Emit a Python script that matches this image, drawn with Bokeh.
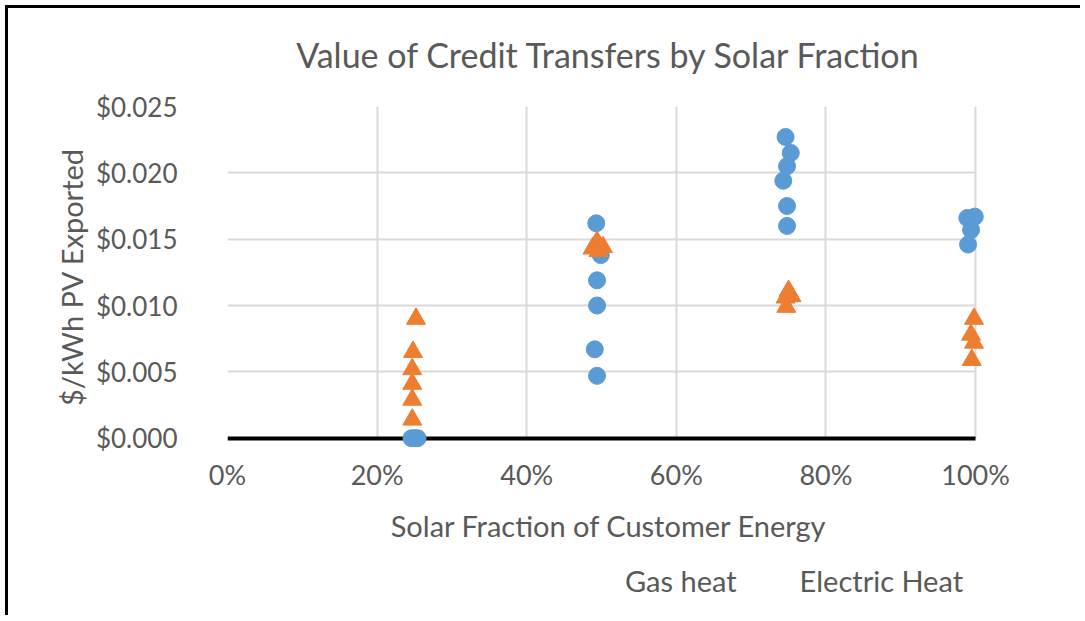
from bokeh.plotting import figure
from bokeh.layouts import column
from bokeh.models import (NumeralTickFormatter, FixedTicker, Range1d,
                          Legend, LegendItem, Title, Grid)
from bokeh.embed import file_html
from bokeh.resources import INLINE

# Gas heat series
gas_x = [0.246, 0.254, 0.2505, 0.493, 0.499, 0.494, 0.494, 0.491, 0.494,
         0.746, 0.753, 0.748, 0.743, 0.748, 0.748,
         0.989, 0.999, 0.994, 0.990]
gas_y = [0.0, 0.0, 0.0, 0.0162, 0.0138, 0.0119, 0.0100, 0.0067, 0.0047,
         0.0227, 0.0215, 0.0205, 0.0194, 0.0175, 0.0160,
         0.0166, 0.0167, 0.0157, 0.0146]

# Electric heat series
elec_x = [0.252, 0.248, 0.247, 0.247, 0.247, 0.247,
          0.494, 0.502, 0.488, 0.496,
          0.750, 0.746, 0.754, 0.747,
          0.998, 0.994, 0.998, 0.995]
elec_y = [0.0090, 0.0065, 0.0052, 0.0041, 0.0029, 0.0014,
          0.0148, 0.0144, 0.0143, 0.0141,
          0.0111, 0.0106, 0.0107, 0.0099,
          0.0090, 0.0078, 0.0072, 0.0059]

series_names = ["Gas heat", "Electric Heat"]
x_ticks = [0, 0.2, 0.4, 0.6, 0.8, 1.0]
y_ticks = [0, 0.005, 0.010, 0.015, 0.020, 0.025]

FONT = "Lato"
GREY = "#595959"
BLUE = "#5B9BD5"
ORANGE = "#ED7D31"

# ---------------- main chart ----------------
p = figure(width=1080, height=555, output_backend="svg", toolbar_location=None,
           x_range=Range1d(0, 1.02), y_range=Range1d(-0.0007, 0.025),
           min_border_left=227, min_border_right=90, min_border_top=106,
           min_border_bottom=108)
p.title = None
p.outline_line_color = None
p.border_fill_color = None
p.styles = {
    "background": ("linear-gradient(#000, #000) 5px 5px / 3px 100% no-repeat, "
                   "linear-gradient(#000, #000) 5px 5px / 100% 3px no-repeat, #fff"),
}

t = Title(text="Value of Credit Transfers by Solar Fraction", align="center",
          vertical_align="top",
          text_font=FONT, text_font_size="34px", text_font_style="normal",
          text_color=GREY, offset=0, standoff=60)
p.add_layout(t, "above")

p.xgrid.grid_line_color = "#d9d9d9"
p.ygrid.grid_line_color = "#d9d9d9"
p.xgrid.grid_line_width = 2
p.ygrid.grid_line_width = 2
p.xgrid.cross_bounds = (0, 0.025)
p.ygrid.cross_bounds = (0, 1)

# black zero line (horizontal axis line of the reference)
zero_line = Grid(dimension=1, ticker=FixedTicker(ticks=[y_ticks[0]]),
                 grid_line_color="black", grid_line_width=4,
                 cross_bounds=(x_ticks[0], x_ticks[-1]))
p.add_layout(zero_line, "center")

p.scatter(gas_x, gas_y, marker="circle", size=17, fill_color=BLUE,
          line_color=BLUE)
p.scatter(elec_x, elec_y, marker="triangle", size=19, fill_color=ORANGE,
          line_color=ORANGE)

p.xaxis.ticker = FixedTicker(ticks=x_ticks)
p.yaxis.ticker = FixedTicker(ticks=y_ticks)
p.xaxis.formatter = NumeralTickFormatter(format="0%")
p.yaxis.formatter = NumeralTickFormatter(format="$0.000")

for ax in (p.xaxis[0], p.yaxis[0]):
    ax.axis_line_color = None
    ax.major_tick_line_color = None
    ax.minor_tick_line_color = None
    ax.major_tick_out = 0
    ax.major_tick_in = 0
    ax.minor_tick_out = 0
    ax.minor_tick_in = 0
    ax.major_label_text_font = FONT
    ax.major_label_text_font_size = "27px"
    ax.major_label_text_color = GREY
    ax.axis_label_text_font = FONT
    ax.axis_label_text_font_size = "29px"
    ax.axis_label_text_font_style = "normal"
    ax.axis_label_text_color = GREY

p.yaxis.major_label_text_font_size = "26px"
p.xaxis.major_label_standoff = 10
p.xaxis.axis_label = "Solar Fraction of Customer Energy"
p.xaxis.axis_label_standoff = 14
p.yaxis.major_label_standoff = 50
p.yaxis.axis_label = "$/kWh PV Exported"
p.yaxis.axis_label_standoff = 4

# ---------------- legend strip ----------------
p2 = figure(width=1080, height=60, output_backend="svg", toolbar_location=None,
            x_axis_type=None, y_axis_type=None,
            x_range=Range1d(0, 1), y_range=Range1d(0, 1),
            min_border=0, min_border_left=0, min_border_right=0,
            min_border_top=0, min_border_bottom=0)
p2.title = None
p2.outline_line_color = None
p2.grid.visible = False
p2.border_fill_color = None
p2.background_fill_color = None
p2.styles = {
    "background": "linear-gradient(#000, #000) 5px 0 / 3px 100% no-repeat, #fff",
}

g_leg = p2.scatter(x=[], y=[], marker="circle", size=12, fill_color=BLUE,
                   line_color=BLUE)
e_leg = p2.scatter(x=[], y=[], marker="triangle", size=13, fill_color=ORANGE,
                   line_color=ORANGE)

legend = Legend(items=[LegendItem(label=series_names[0], renderers=[g_leg]),
                       LegendItem(label=series_names[1], renderers=[e_leg])],
                orientation="horizontal", location=(374, 17),
                border_line_color=None, background_fill_alpha=0,
                label_text_font=FONT, label_text_font_size="29px",
                label_text_color=GREY, glyph_width=14, glyph_height=14,
                spacing=39, padding=0, margin=0, label_standoff=10)
p2.add_layout(legend, "center")

layout = column(p, p2, spacing=0)
open("out.html", "w").write(file_html(layout, INLINE))
